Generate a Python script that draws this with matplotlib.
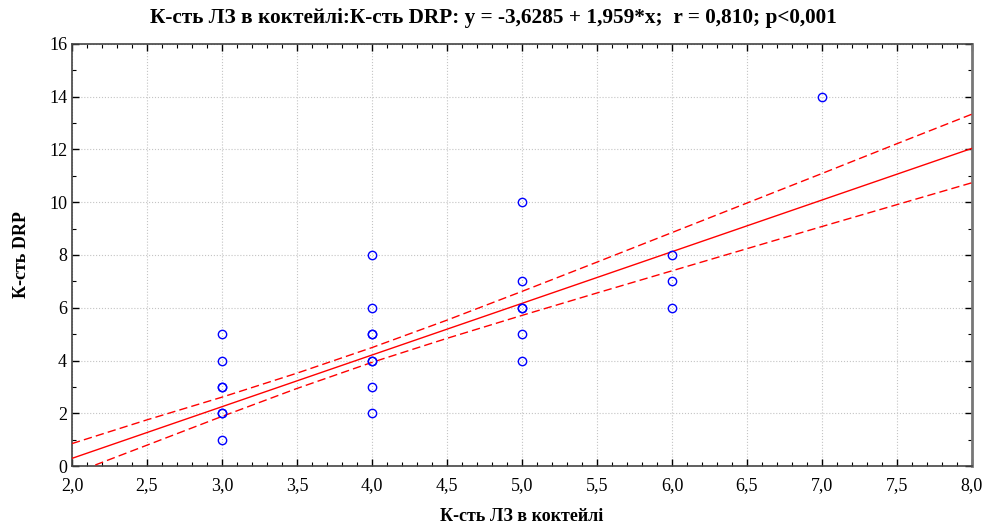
import matplotlib
matplotlib.use("Agg")
import matplotlib.pyplot as plt
from matplotlib.ticker import MultipleLocator, FuncFormatter

# scatter data: К-сть ЛЗ в коктейлі vs К-сть DRP
x_vals = [3, 3, 3, 3, 3, 3, 3,
          4, 4, 4, 4, 4, 4, 4, 4,
          5, 5, 5, 5, 5, 5,
          6, 6, 6,
          7]
y_vals = [1, 2, 2, 3, 3, 4, 5,
          2, 3, 4, 4, 5, 5, 6, 8,
          4, 5, 6, 6, 7, 10,
          6, 7, 8,
          14]

# regression coefficients from the title
intercept = -3.6285
slope = 1.959

# 95% confidence band
band_x = [2.0, 2.5, 3.0, 3.5, 4.0, 4.5, 5.0, 5.5, 6.0, 6.5, 7.0, 7.5, 8.0]
band_upper = [0.85, 1.75, 2.61, 3.52, 4.49, 5.53, 6.62, 7.73, 8.85, 9.97, 11.09, 12.22, 13.34]
band_lower = [-0.30, 0.79, 1.88, 2.94, 3.93, 4.84, 5.71, 6.56, 7.40, 8.24, 9.08, 9.91, 10.74]

title = "К-сть ЛЗ в коктейлі:К-сть DRP: y = -3,6285 + 1,959*x;  r = 0,810; p<0,001"
xlabel = "К-сть ЛЗ в коктейлі"
ylabel = "К-сть DRP"

plt.rcParams["font.family"] = ["Liberation Serif", "DejaVu Serif"]

fig = plt.figure(figsize=(9.87, 5.28), dpi=100)
ax = fig.add_axes([0.0729, 0.1174, 0.9119, 0.7993])

ax.grid(True, which="major", color="#c4c4c4", linestyle=":", linewidth=0.8)
ax.set_axisbelow(True)

line_x = [2.0, 8.0]
line_y = [intercept + slope * v for v in line_x]
ax.plot(line_x, line_y, color="red", linewidth=1.0, zorder=3)
ax.plot(band_x, band_upper, color="red", linewidth=1.0, linestyle=(0, (6, 3)), zorder=3)
ax.plot(band_x, band_lower, color="red", linewidth=1.0, linestyle=(0, (6, 3)), zorder=3)

ax.plot(x_vals, y_vals, linestyle="none", marker="o", markersize=6,
        markerfacecolor="none", markeredgecolor="blue", markeredgewidth=1.0, zorder=4)

ax.set_xlim(2, 8)
ax.set_ylim(0, 16)
ax.xaxis.set_major_locator(MultipleLocator(0.5))
ax.xaxis.set_minor_locator(MultipleLocator(0.1))
ax.yaxis.set_major_locator(MultipleLocator(2))
ax.yaxis.set_minor_locator(MultipleLocator(1))
ax.xaxis.set_major_formatter(FuncFormatter(lambda v, p: f"{v:.1f}".replace(".", ",")))
ax.yaxis.set_major_formatter(FuncFormatter(lambda v, p: f"{int(round(v))}"))

ax.tick_params(which="both", direction="in", top=True, right=True, labelsize=13, colors="black")
ax.tick_params(which="major", length=5, width=1)
ax.tick_params(which="minor", length=3, width=0.8)
ax.tick_params(axis="x", pad=8)
for s in ax.spines.values():
    s.set_color("#444444")
    s.set_linewidth(1.2)
ax.spines["right"].set_color("#777777")
ax.spines["right"].set_linewidth(2)

fig.suptitle(title, x=0.5, y=0.985, va="top", fontsize=15.3, fontweight="bold")
ax.set_xlabel(xlabel, fontsize=13, fontweight="bold", labelpad=10)
ax.set_ylabel(ylabel, fontsize=13, fontweight="bold", labelpad=14)

fig.savefig("out.png", dpi=100)
